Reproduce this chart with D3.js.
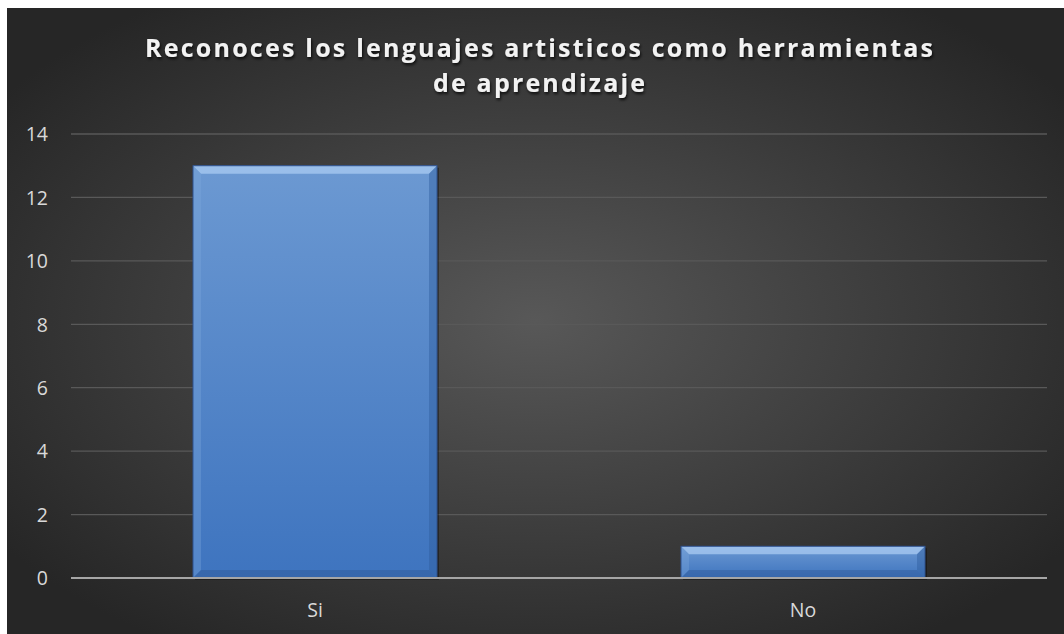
<!DOCTYPE html>
<html><head><meta charset="utf-8">
<script src="https://cdn.jsdelivr.net/npm/d3@7"></script>
<style>html,body{margin:0;padding:0;background:#fff;}svg{display:block;}</style>
</head><body>
<svg id="c" width="1064" height="634"></svg>
<script>
const categories = ["Si", "No"];
const values = [13, 1];
const yTicks = [0, 2, 4, 6, 8, 10, 12, 14];
const titleLines = ["Reconoces los lenguajes artisticos como herramientas", "de aprendizaje"];

const svg = d3.select("#c");
const W = 1064, H = 634;
const defs = svg.append("defs");
const bg = defs.append("radialGradient").attr("id","bg").attr("cx","50%").attr("cy","50%").attr("r","62%");
bg.append("stop").attr("offset","0%").attr("stop-color","#585858");
bg.append("stop").attr("offset","100%").attr("stop-color","#262626");
const bar = defs.append("linearGradient").attr("id","bar").attr("x1",0).attr("y1",0).attr("x2",0).attr("y2",1);
bar.append("stop").attr("offset","0%").attr("stop-color","#6c99d2");
bar.append("stop").attr("offset","100%").attr("stop-color","#3e74bf");
const sh = defs.append("filter").attr("id","ts").attr("x","-10%").attr("y","-30%").attr("width","120%").attr("height","160%");
sh.append("feDropShadow").attr("dx",1).attr("dy",2).attr("stdDeviation",1.5).attr("flood-color","#000").attr("flood-opacity",0.8);

svg.append("rect").attr("x",7).attr("y",8).attr("width",W-7).attr("height",H-8).attr("fill","url(#bg)");

const m = {left:71, right:1047, top:134, bottom:578};
const x = d3.scaleBand().domain(categories).range([m.left, m.right]).paddingInner(0.5).paddingOuter(0.25);
const y = d3.scaleLinear().domain([0,14]).range([m.bottom, m.top]);

// gridlines
svg.append("g").selectAll("line").data(yTicks.filter(d=>d>0)).join("line")
  .attr("x1",m.left).attr("x2",m.right).attr("y1",d=>y(d)).attr("y2",d=>y(d))
  .attr("stroke","#595959").attr("stroke-width",1.3);

// y axis labels
const yAxis = d3.axisLeft(y).tickValues(yTicks).tickSize(0).tickPadding(0);
const gy = svg.append("g").attr("transform",`translate(${48},0)`).call(yAxis);
gy.select(".domain").remove();
gy.selectAll("text").attr("fill","#d9d9d9").attr("font-family","'Open Sans', 'Noto Sans', sans-serif").attr("font-size",19.5).attr("dy","0.35em");

// bars with bevel
const b = 8;
const gb = svg.append("g");
categories.forEach((c,i)=>{
  const x0 = x(c), x1 = x(c)+x.bandwidth(), y0 = y(values[i]), y1 = y(0);
  const g = gb.append("g");
  g.append("rect").attr("x",x0+2).attr("y",y0+2).attr("width",x1-x0).attr("height",y1-y0).attr("fill","#000").attr("opacity",0.35);
  g.append("rect").attr("x",x0).attr("y",y0).attr("width",x1-x0).attr("height",y1-y0).attr("fill","url(#bar)");
  const bb = Math.min(b, (y1-y0)/2);
  g.append("polygon").attr("points",[[x0,y0],[x1,y0],[x1-bb,y0+bb],[x0+bb,y0+bb]].join(" ")).attr("fill","#a6c8f0").attr("opacity",0.8);
  g.append("polygon").attr("points",[[x0,y0],[x0+bb,y0+bb],[x0+bb,y1-bb],[x0,y1]].join(" ")).attr("fill","#7ea8de").attr("opacity",0.35);
  g.append("polygon").attr("points",[[x1,y0],[x1,y1],[x1-bb,y1-bb],[x1-bb,y0+bb]].join(" ")).attr("fill","#2f5d9e").attr("opacity",0.45);
  g.append("polygon").attr("points",[[x0,y1],[x1,y1],[x1-bb,y1-bb],[x0+bb,y1-bb]].join(" ")).attr("fill","#2c5592").attr("opacity",0.4);
  g.append("rect").attr("x",x0).attr("y",y0).attr("width",x1-x0).attr("height",y1-y0).attr("fill","none").attr("stroke","#2f528f").attr("stroke-width",1);
});

// x axis
svg.append("line").attr("x1",m.left).attr("x2",m.right).attr("y1",y(0)).attr("y2",y(0)).attr("stroke","#a6a6a6").attr("stroke-width",2);
const xAxis = d3.axisBottom(x).tickSize(0).tickPadding(0);
const gx = svg.append("g").attr("transform",`translate(0,${y(0)+32})`).call(xAxis);
gx.select(".domain").remove();
gx.selectAll("text").attr("fill","#d9d9d9").attr("font-family","'Open Sans', 'Noto Sans', sans-serif").attr("font-size",19.5).attr("dy","0.35em");

// title
const t = svg.append("text").attr("text-anchor","middle").attr("fill","#f2f2f2")
  .attr("font-family","'Open Sans', 'Noto Sans', sans-serif").attr("font-weight","bold").attr("font-size",25)
  .attr("filter","url(#ts)");
const titleW = [788, 212];
t.selectAll("tspan").data(titleLines).join("tspan")
  .attr("x",539).attr("y",(d,i)=>57+i*35)
  .attr("textLength",(d,i)=>titleW[i]).attr("lengthAdjust","spacing").text(d=>d);
</script>
</body></html>
